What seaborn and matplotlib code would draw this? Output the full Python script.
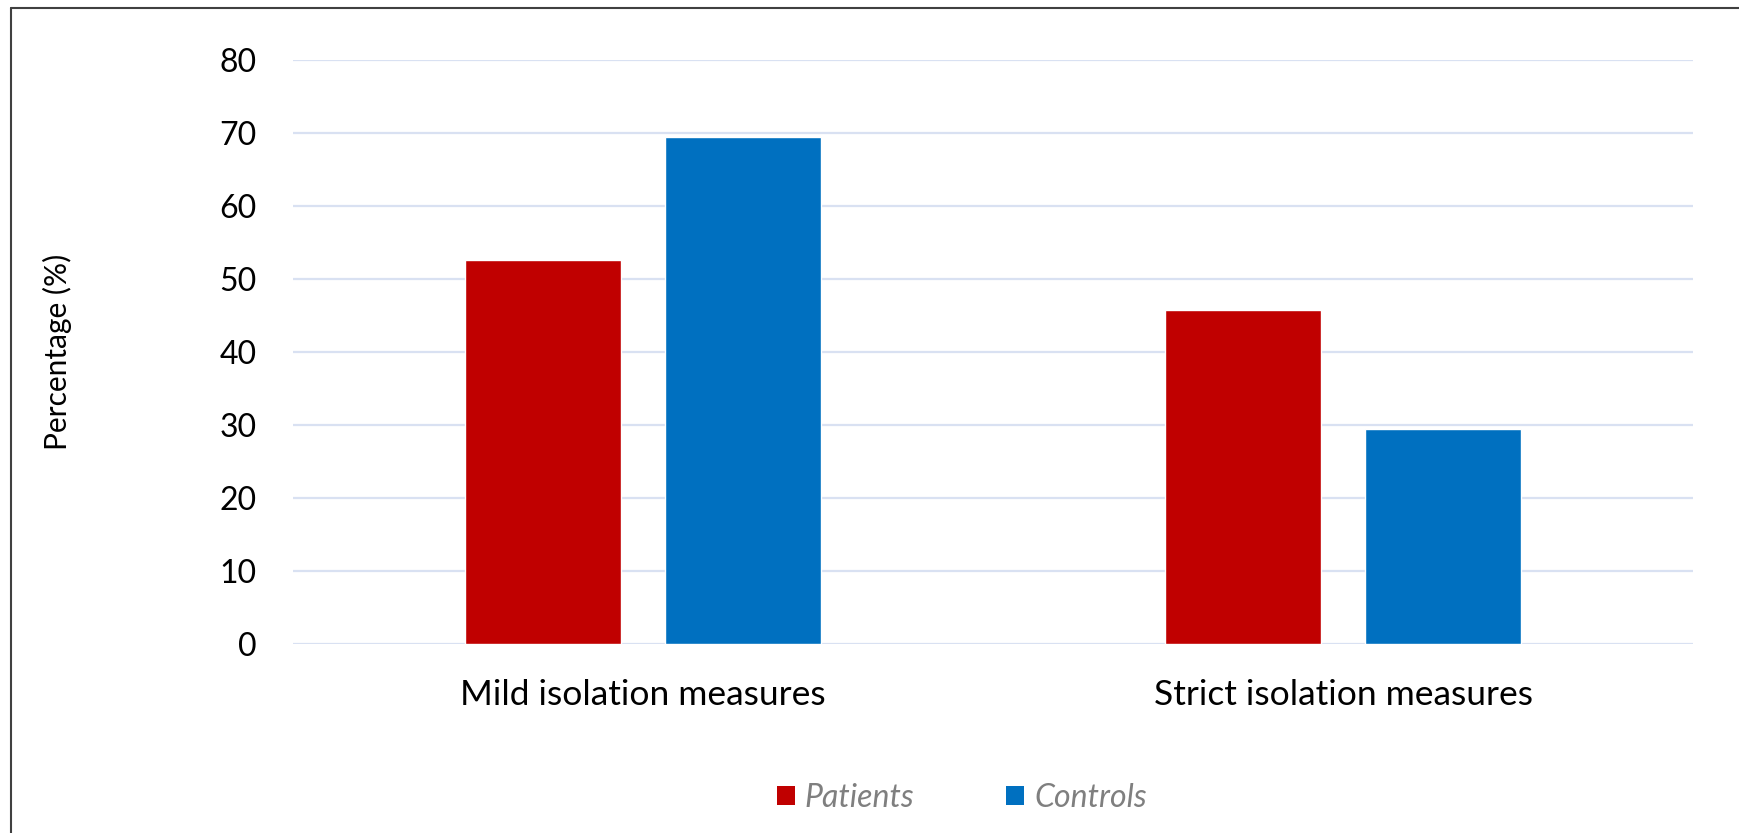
import pandas as pd
import numpy as np
import matplotlib.pyplot as plt
import seaborn as sns
from matplotlib.lines import Line2D
from matplotlib.patches import Patch

categories = ["Mild isolation measures", "Strict isolation measures"]
groups = ["Patients", "Controls"]
patients = [52.6, 45.8]
controls = [69.4, 29.5]
colors = ["#C00000", "#0070C0"]

df = pd.DataFrame({
    "measure": categories * 2,
    "group": [groups[0]] * 2 + [groups[1]] * 2,
    "value": patients + controls,
})

sns.set_theme(style="white")
plt.rcParams['font.family'] = ['Lato', 'DejaVu Sans']

fig = plt.figure(figsize=(17.39, 8.33), dpi=100)
ax = fig.add_axes([0.1685, 0.2269, 0.8051, 0.7011])

sns.barplot(data=df, x="measure", y="value", hue="group", order=categories,
            hue_order=groups, palette=colors, width=0.571, gap=0.216,
            saturation=1, legend=False, ax=ax)

ax.set_ylim(0, 80)
ax.set_xlim(-0.5, 1.5)
ax.set_yticks(np.arange(0, 81, 10))
ax.yaxis.grid(True, color="#D9E1F2", linewidth=1.6)
ax.set_axisbelow(True)
for s in ax.spines.values():
    s.set_visible(False)
ax.tick_params(axis="y", length=0, pad=26, labelsize=23, labelcolor="black")
ax.tick_params(axis="x", length=0, pad=25, labelsize=25.5, labelcolor="black")
ax.set_xlabel("")
ax.set_ylabel("Percentage (%)", fontsize=21.5, color="black", labelpad=0)
ax.yaxis.set_label_coords(-0.158, 0.5)

# legend below the plot
handles = [Patch(facecolor=c, edgecolor="none") for c in colors]
fig.legend(handles, groups, loc="center", bbox_to_anchor=(0.553, 0.042), ncol=2,
           frameon=False, handlelength=0.56, handleheight=0.56, handletextpad=0.3,
           columnspacing=2.9, prop={"style": "italic", "size": 23},
           labelcolor="#7F7F7F")

# figure frame
fig.add_artist(Line2D([11 / 1739, 11 / 1739], [0, 1 - 8 / 833], color="#404040", lw=1.5))
fig.add_artist(Line2D([11 / 1739, 1], [1 - 8 / 833, 1 - 8 / 833], color="#404040", lw=1.5))

fig.savefig("out.png", dpi=100)
